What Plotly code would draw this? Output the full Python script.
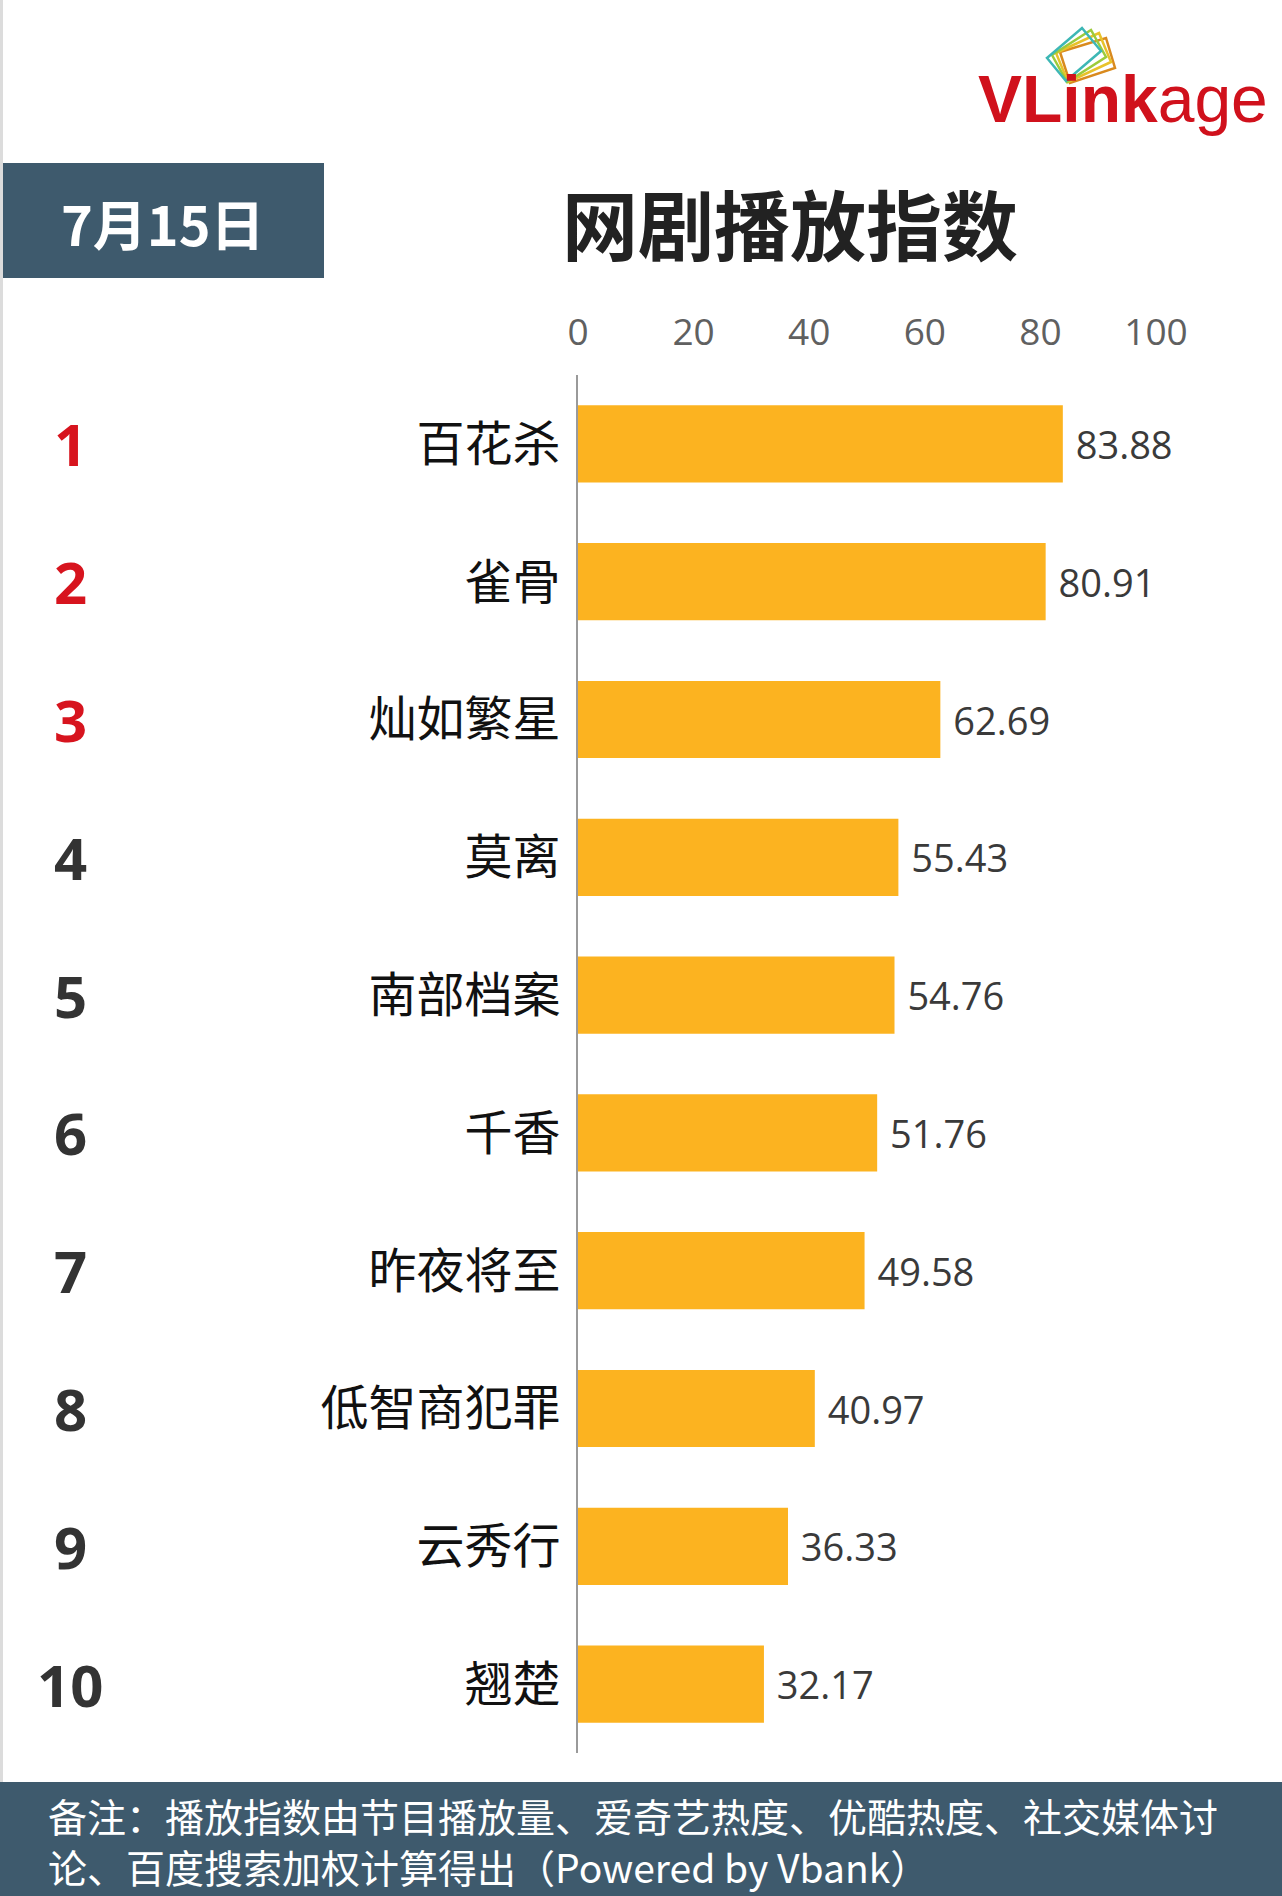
import plotly.graph_objects as go

# ---------------- data ----------------
shows = ["百花杀", "雀骨", "灿如繁星", "莫离", "南部档案", "千香", "昨夜将至", "低智商犯罪", "云秀行", "翘楚"]
index_values = [83.88, 80.91, 62.69, 55.43, 54.76, 51.76, 49.58, 40.97, 36.33, 32.17]
ranks = ["1", "2", "3", "4", "5", "6", "7", "8", "9", "10"]
x_ticks = [0, 20, 40, 60, 80, 100]
date_label = "7月15日"
title_text = "网剧播放指数"
note_line1 = "备注：播放指数由节目播放量、爱奇艺热度、优酷热度、社交媒体讨"
note_line2 = "论、百度搜索加权计算得出（Powered by Vbank）"

# ---------------- layout geometry ----------------
W, H = 1282, 1896
L, R, T, B = 578, 126, 375, 143
PW, PH = W - L - R, H - T - B

def px(x):
    return (x - L) / PW

def py(y):
    return 1 - (y - T) / PH

CJK = "Noto Sans CJK SC"
NUM = "Open Sans"
BAR = "#FCB320"
SLATE = "#3E5A6D"

fig = go.Figure()
fig.add_trace(go.Bar(
    x=index_values, y=shows, orientation="h",
    marker=dict(color=BAR, line=dict(width=0)),
    text=[f" {v:.2f}" for v in index_values],
    textposition="outside",
    textfont=dict(family=NUM, size=38, color="#3a3a3a"),
    cliponaxis=False,
    hoverinfo="skip",
))

shapes = [
    # date box
    dict(type="rect", xref="paper", yref="paper", x0=px(2), x1=px(324), y0=py(278), y1=py(163),
         fillcolor=SLATE, line=dict(width=0), layer="below"),
    # footer band
    dict(type="rect", xref="paper", yref="paper", x0=px(0), x1=px(W), y0=py(H), y1=py(1782),
         fillcolor=SLATE, line=dict(width=0), layer="below"),
    # left light edge
    dict(type="rect", xref="paper", yref="paper", x0=px(0), x1=px(3), y0=py(1782), y1=py(0),
         fillcolor="#dcdcdc", line=dict(width=0), layer="below"),
]

# logo icon (stacked tilted frames)
frames = [
    ("#D98A1E", [(1060, 52), (1106, 38), (1115, 68), (1070, 83)]),
    ("#E8C22A", [(1056, 53), (1099, 33), (1111, 62), (1068, 82)]),
    ("#9CCB3B", [(1052, 55), (1091, 30), (1106, 57), (1067, 82)]),
    ("#3DB7B5", [(1047, 58), (1082, 28), (1101, 51), (1066, 81)]),
]
for col, pts in frames:
    path = "M " + " L ".join(f"{px(a)},{py(b)}" for a, b in pts) + " Z"
    shapes.append(dict(type="path", xref="paper", yref="paper", path=path,
                       line=dict(color=col, width=2.5), fillcolor="rgba(0,0,0,0)"))

annotations = [
    dict(text=date_label, xref="paper", yref="paper", x=px(163), y=py(222),
         xanchor="center", yanchor="middle", showarrow=False,
         font=dict(family=CJK, size=54, color="white", weight="bold")),
    dict(text=title_text, xref="paper", yref="paper", x=px(790), y=py(222),
         xanchor="center", yanchor="middle", showarrow=False,
         font=dict(family=CJK, size=76, color="#222222", weight="bold")),
    dict(text="<b>VLink</b>age", xref="paper", yref="paper", x=px(976), y=py(99),
         xanchor="left", yanchor="middle", showarrow=False,
         font=dict(family="Liberation Sans", size=66, color="#D0111C")),
    dict(text=note_line1 + "<br>" + note_line2, xref="paper", yref="paper",
         x=px(46), y=py(1840), xanchor="left", yanchor="middle", align="left",
         showarrow=False,
         font=dict(family=CJK, size=39, color="white")),
]
for i, (r, s) in enumerate(zip(ranks, shows)):
    annotations.append(dict(
        text=r, xref="paper", yref="y", x=px(70), y=s,
        xanchor="center", yanchor="middle", showarrow=False,
        font=dict(family=NUM, size=58, weight="bold",
                  color="#D7141E" if i < 3 else "#333333")))

fig.update_layout(
    width=W, height=H,
    margin=dict(l=L, r=R, t=T, b=B),
    paper_bgcolor="white", plot_bgcolor="white",
    showlegend=False,
    bargap=0.44,
    shapes=shapes,
    annotations=annotations,
    xaxis=dict(side="top", range=[0, 100], tickvals=x_ticks,
               showgrid=False, zeroline=False, showline=False, ticks="",
               tickfont=dict(family=NUM, size=37, color="#606060"),
               ticklabelstandoff=22, fixedrange=True),
    yaxis=dict(categoryorder="array", categoryarray=shows, autorange="reversed",
               showgrid=False, zeroline=False, showline=True,
               linecolor="#9a9a9a", linewidth=2, ticks="",
               tickfont=dict(family=CJK, size=48, color="#111111"),
               ticklabelstandoff=6, fixedrange=True),
)

fig.write_html("out.html")
